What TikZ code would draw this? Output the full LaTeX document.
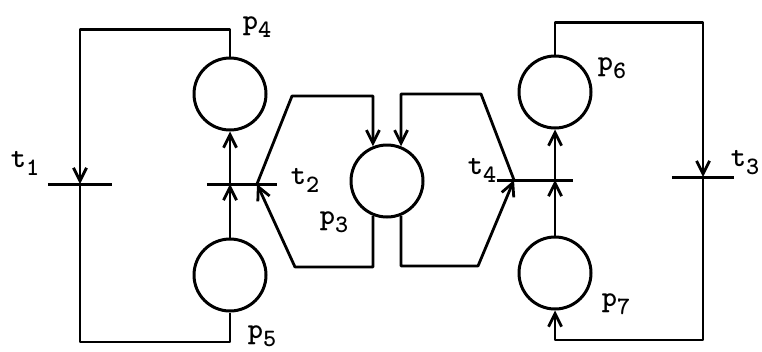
\documentclass[tikz,border=0pt]{standalone}
\usepackage{fontspec}
\usetikzlibrary{arrows.meta}
\newcommand\lsub[1]{\raisebox{-8pt}{\fontsize{25}{25}\selectfont #1}}
\begin{document}
\begin{tikzpicture}[x=1pt,y=-1pt,
  place/.style={circle,draw,line width=3pt,minimum size=72pt,inner sep=0pt},
  trans/.style={rectangle,minimum width=#1,minimum height=0pt,inner sep=0pt},
  bar/.style={line width=3pt},
  arc/.style={line width=2.8pt,line join=round,-{Straight Barb[length=13pt,width=13pt,line width=2.8pt]}},
  plain/.style={line width=2.8pt,line join=round},
  lab/.style={font=\ttfamily\bfseries\fontsize{29}{29}\selectfont,inner sep=0pt}]
\useasboundingbox (0,0) rectangle (762,351);
% places
\node[place] (p4) at (230,94) {};
\node[place] (p5) at (230,275) {};
\node[place] (p3) at (387,181) {};
\node[place] (p6) at (555,92) {};
\node[place] (p7) at (555,273) {};
% transitions
\node[trans=64pt] (t1) at (80,184) {};
\node[trans=70pt] (t2) at (242,184) {};
\node[trans=76pt] (t4) at (535,180) {};
\node[trans=62pt] (t3) at (703,177) {};
\foreach \t in {t1,t2,t3,t4} \draw[bar] (\t.west) -- (\t.east);
% arcs
\draw[arc] (p4.north) -- ++(0,-27) -| (t1.center);
\draw[plain] (t1.center) -- ++(0,158) -| (p5.south);
\draw[arc] (p5.north) -- ([xshift=-12pt]t2.center);
\draw[arc] ([xshift=-12pt]t2.center) -- (p4.south);
\draw[arc] ([xshift=15pt]t2.center) -- (292,96) -| (p3.112);
\draw[arc] (p3.248) |- (295,267) -- ([xshift=15pt]t2.center);
\draw[arc] ([xshift=-21pt]t4.center) -- (481,94) -| (p3.68);
\draw[arc] (p3.292) |- (478,266) -- ([xshift=-21pt]t4.center);
\draw[arc] (p7.north) -- ([xshift=20pt]t4.center);
\draw[arc] ([xshift=20pt]t4.center) -- (p6.south);
\draw[arc] (p6.north) -- ++(0,-32) -| (t3.center);
\draw[arc] (t3.center) -- ++(0,163) -| (p7.south);
% labels
\node[lab] (lp4) at (257,27) {p\lsub{4}};
\node[lab] (lp5) at (262,336) {p\lsub{5}};
\node[lab] (lp3) at (334,222) {p\lsub{3}};
\node[lab] (lp6) at (612,68) {p\lsub{6}};
\node[lab] (lp7) at (616,304) {p\lsub{7}};
\node[lab] (lt1) at (25,163) {t\lsub{1}};
\node[lab] (lt2) at (305,180) {t\lsub{2}};
\node[lab] (lt4) at (482,170) {t\lsub{4}};
\node[lab] (lt3) at (745,163) {t\lsub{3}};
\end{tikzpicture}
\end{document}
